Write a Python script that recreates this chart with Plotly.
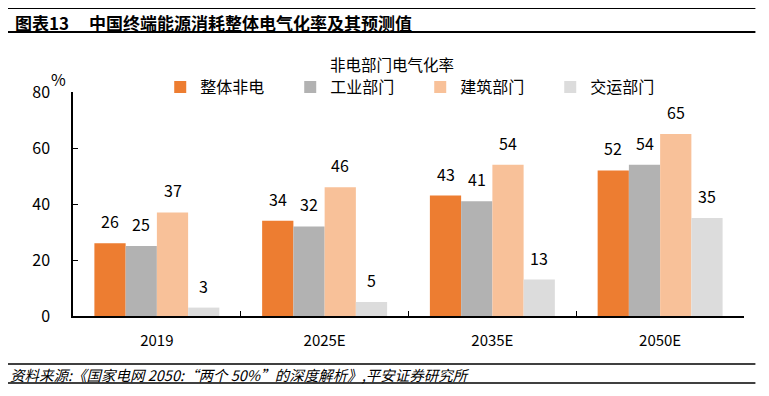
import plotly.graph_objects as go

categories = ["2019", "2025E", "2035E", "2050E"]
series_names = ["整体非电", "工业部门", "建筑部门", "交运部门"]
overall = [26, 34, 43, 52]
industry = [25, 32, 41, 54]
building = [37, 46, 54, 65]
transport = [3, 5, 13, 35]
colors = ["#ED7D31", "#B2B2B2", "#F8C199", "#DCDCDC"]
yticks = [0, 20, 40, 60, 80]

FONT = "Noto Sans CJK SC"
values = [overall, industry, building, transport]
bargap = 0.255

fig = go.Figure()
for name, vals, col in zip(series_names, values, colors):
    fig.add_trace(go.Bar(x=categories, y=vals, name=name, marker=dict(color=col, line=dict(width=0))))

annotations = []
n = len(series_names)
w = (1 - bargap) / n
for i, vals in enumerate(values):
    off = (i - (n - 1) / 2) * w
    for j, v in enumerate(vals):
        annotations.append(dict(x=j + off, y=v, xref="x", yref="y", text=str(v), showarrow=False,
                                xanchor="center", yanchor="middle",
                                yshift=22, font=dict(family=FONT, size=16, color="#000")))

annotations += [
    dict(x=-0.022, y=1.058, xref="paper", yref="paper", text="%", showarrow=False,
         xanchor="center", yanchor="middle", font=dict(family=FONT, size=16, color="#000")),
    dict(x=0.475, y=1.124, xref="paper", yref="paper", text="非电部门电气化率", showarrow=False,
         xanchor="center", yanchor="middle", font=dict(family=FONT, size=15.5, color="#000")),
    dict(x=-0.089, y=1.3125, xref="paper", yref="paper", xanchor="left", yanchor="middle",
         text="<b>图表13</b>", showarrow=False, font=dict(family=FONT, size=17, color="#000")),
    dict(x=0.021, y=1.3125, xref="paper", yref="paper", xanchor="left", yanchor="middle",
         text="<b>中国终端能源消耗整体电气化率及其预测值</b>", showarrow=False,
         font=dict(family=FONT, size=17, color="#000")),
    dict(x=-0.097, y=-0.259, xref="paper", yref="paper", xanchor="left", yanchor="middle",
         text="<i>资料来源:《国家电网 2050:“两个 50%”的深度解析》,平安证券研究所</i>", showarrow=False,
         font=dict(family=FONT, size=14.5, color="#000")),
]

shapes = [
    dict(type="line", xref="paper", yref="paper", x0=-0.097, x1=1.017, y0=1.375, y1=1.375, line=dict(color="#000", width=2)),
    dict(type="line", xref="paper", yref="paper", x0=-0.097, x1=1.017, y0=1.268, y1=1.268, line=dict(color="#000", width=2)),
    dict(type="line", xref="paper", yref="paper", x0=-0.097, x1=1.017, y0=-0.214, y1=-0.214, line=dict(color="#000", width=1.5)),
    dict(type="line", xref="paper", yref="paper", x0=-0.097, x1=1.017, y0=-0.299, y1=-0.299, line=dict(color="#000", width=1.5)),
]

fig.update_layout(
    width=769, height=396,
    margin=dict(l=65, r=33, t=84, b=88, autoexpand=False),
    paper_bgcolor="white", plot_bgcolor="white",
    barmode="group", bargap=bargap, bargroupgap=0,
    font=dict(family=FONT, size=15, color="#000"),
    legend=dict(orientation="h", x=0.13, xanchor="left", y=1.022, yanchor="middle",
                font=dict(family=FONT, size=16, color="#000"),
                entrywidth=85, entrywidthmode="pixels", itemwidth=30,
                bgcolor="rgba(0,0,0,0)"),
    annotations=annotations,
    shapes=shapes,
    xaxis=dict(type="category", showline=True, linecolor="#000", linewidth=1.5, automargin=False,
               ticks="inside", ticklen=5, tickcolor="#000", tickson="boundaries",
               ticklabelstandoff=10, tickfont=dict(family=FONT, size=15)),
    yaxis=dict(range=[0, 80], tickvals=yticks, showline=True, linecolor="#000", linewidth=1.5, automargin=False,
               ticks="inside", ticklen=5, tickcolor="#000", showgrid=False, zeroline=False,
               ticklabelstandoff=18, tickfont=dict(family=FONT, size=16)),
)

fig.write_html("out.html")
